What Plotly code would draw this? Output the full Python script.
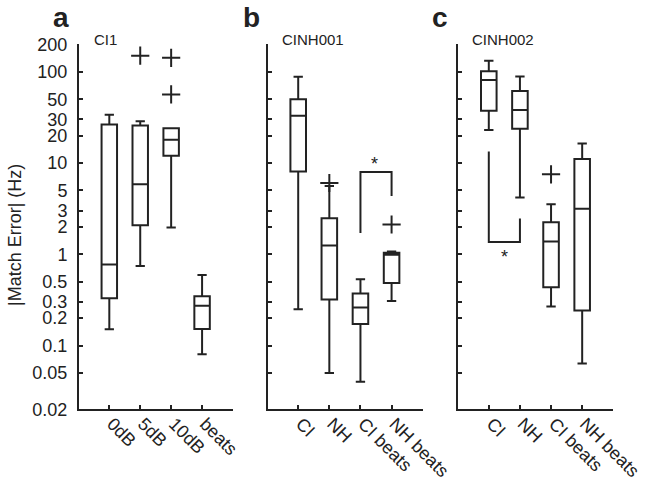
import math
import plotly.graph_objects as go

# ---------------- data ----------------
panel_titles = ["CI1", "CINH001", "CINH002"]
panel_letters = ["a", "b", "c"]

cats_a = ["0dB", "5dB", "10dB", "beats"]
cats_bc = ["CI", "NH", "CI beats", "NH beats"]

# box statistics: lower whisker, q1, median, q3, upper whisker
a_low = [0.151, 0.745, 1.96, 0.080]
a_q1 = [0.33, 2.08, 12.05, 0.152]
a_med = [0.77, 5.84, 18.0, 0.272]
a_q3 = [26.5, 25.7, 24.0, 0.347]
a_high = [33.9, 28.6, 24.0, 0.593]
a_out_x = [2, 3, 3]
a_out_y = [150, 142, 56.5]

b_low = [0.25, 0.050, 0.040, 0.308]
b_q1 = [8.05, 0.319, 0.172, 0.485]
b_med = [33.0, 1.25, 0.261, 0.985]
b_q3 = [49.9, 2.48, 0.371, 1.04]
b_high = [88.3, 5.6, 0.532, 1.07]
b_out_x = [2, 4]
b_out_y = [6.04, 2.12]

c_low = [23.0, 4.18, 0.267, 0.0635]
c_q1 = [37.5, 23.8, 0.435, 0.242]
c_med = [81.1, 38.1, 1.38, 3.16]
c_q3 = [101, 61.5, 2.24, 11.07]
c_high = [132, 89, 3.53, 16.4]
c_out_x = [3]
c_out_y = [7.52]

# significance brackets
b_br_x = [3, 3, 4, 4]
b_br_y = [1.71, 7.97, 7.97, 4.35]
b_star = (3.45, 9.8)
c_br_x = [1, 1, 2, 2]
c_br_y = [13.4, 1.36, 1.36, 2.46]
c_star = (1.5, 0.93)

ytick_vals = [0.02, 0.05, 0.1, 0.2, 0.3, 0.5, 1, 2, 3, 5, 10, 20, 30, 50, 100, 200]
ytick_text = ["0.02", "0.05", "0.1", "0.2", "0.3", "0.5", "1", "2", "3", "5",
              "10", "20", "30", "50", "100", "200"]

# ---------------- figure ----------------
W, H = 648, 484
FONT = "Arial, Liberation Sans, Helvetica, sans-serif"
INK = "#222222"

fig = go.Figure()

panels = [
    (cats_a, a_low, a_q1, a_med, a_q3, a_high, a_out_x, a_out_y),
    (cats_bc, b_low, b_q1, b_med, b_q3, b_high, b_out_x, b_out_y),
    (cats_bc, c_low, c_q1, c_med, c_q3, c_high, c_out_x, c_out_y),
]
x_px = [(79, 233), (267.7, 422.7), (458.3, 613.3)]
y_top_px, y_bot_px = 44.3, 409.3

for i, (cats, lo, q1, med, q3, hi, ox, oy) in enumerate(panels):
    xa = "x" if i == 0 else f"x{i+1}"
    ya = "y" if i == 0 else f"y{i+1}"
    pos = [1, 2, 3, 4]
    fig.add_trace(go.Box(
        x=pos, lowerfence=lo, q1=q1, median=med, q3=q3, upperfence=hi,
        width=0.5, whiskerwidth=0.6, fillcolor="white",
        line=dict(color=INK, width=2), boxpoints=False,
        xaxis=xa, yaxis=ya, showlegend=False, hoverinfo="skip"))
    fig.add_trace(go.Scatter(
        x=ox, y=oy, mode="markers", xaxis=xa, yaxis=ya, showlegend=False,
        marker=dict(symbol="cross-thin", size=13, line=dict(width=2, color=INK))))

    d0 = x_px[i][0] / W
    d1 = x_px[i][1] / W
    fig.update_layout({
        f"xaxis{'' if i == 0 else i+1}": dict(
            domain=[d0, d1], range=[0.02, 5.0], anchor=ya, automargin=False,
            tickvals=pos, ticktext=cats, tickangle=45,
            ticklabelstandoff=-5, ticklabelshift=3,
            ticks="inside", ticklen=4, tickwidth=2, tickcolor=INK,
            showline=True, linecolor=INK, linewidth=2,
            showgrid=False, zeroline=False,
            tickfont=dict(family=FONT, size=18, color=INK)),
        f"yaxis{'' if i == 0 else i+1}": dict(
            domain=[1 - y_bot_px / H, 1 - y_top_px / H], automargin=False,
            type="log", range=[-1.699, 2.301], anchor=xa,
            tickvals=ytick_vals, ticktext=ytick_text if i == 0 else [""] * len(ytick_vals),
            showticklabels=(i == 0), ticklabelstandoff=6,
            ticks="inside", ticklen=4, tickwidth=2, tickcolor=INK,
            showline=True, linecolor=INK, linewidth=2,
            showgrid=False, zeroline=False,
            tickfont=dict(family=FONT, size=18, color=INK)),
    })

# brackets
fig.add_trace(go.Scatter(x=b_br_x, y=b_br_y, mode="lines", xaxis="x2", yaxis="y2",
                         line=dict(color=INK, width=2), showlegend=False))
fig.add_trace(go.Scatter(x=c_br_x, y=c_br_y, mode="lines", xaxis="x3", yaxis="y3",
                         line=dict(color=INK, width=2), showlegend=False))
fig.add_annotation(x=b_star[0], y=math.log10(b_star[1]),
                   xref="x2", yref="y2", text="*", showarrow=False,
                   font=dict(family=FONT, size=18, color=INK))
fig.add_annotation(x=c_star[0], y=math.log10(c_star[1]),
                   xref="x3", yref="y3", text="*", showarrow=False,
                   font=dict(family=FONT, size=18, color=INK))

# panel titles and letters
title_px = [92, 280, 470]
letter_px = [51, 241, 430]
for i in range(3):
    fig.add_annotation(x=title_px[i] / W, y=1 - 40 / H, xref="paper", yref="paper",
                       text=panel_titles[i], showarrow=False, xanchor="left", yanchor="middle",
                       font=dict(family=FONT, size=15, color=INK))
    fig.add_annotation(x=letter_px[i] / W, y=1 - 17 / H, xref="paper", yref="paper",
                       text=f"<b>{panel_letters[i]}</b>", showarrow=False,
                       xanchor="left", yanchor="middle",
                       font=dict(family=FONT, size=28, color=INK))

# y axis title
fig.add_annotation(x=15 / W, y=1 - 235 / H, xref="paper", yref="paper",
                   text="|Match Error| (Hz)", textangle=-90, showarrow=False,
                   xanchor="center", yanchor="middle",
                   font=dict(family=FONT, size=18, color=INK))

fig.update_layout(width=W, height=H, margin=dict(l=0, r=0, t=0, b=0, autoexpand=False),
                  paper_bgcolor="white", plot_bgcolor="white", showlegend=False)

fig.write_html(
    "out.html",
    config={"displayModeBar": False},
    post_script="document.body.style.margin='0';document.body.style.overflow='hidden';",
)
